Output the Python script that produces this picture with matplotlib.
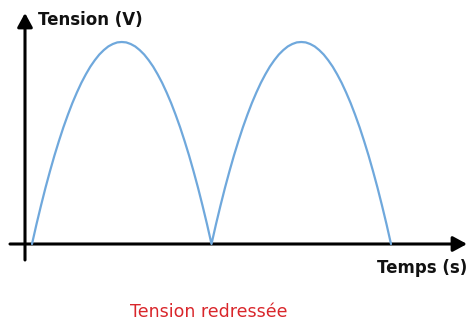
import numpy as np
import matplotlib
matplotlib.use("Agg")
import matplotlib.pyplot as plt

# Rectified voltage: two arches, sampled every 0.25 time units
time_arch1 = np.linspace(0, 10, 41)
time_arch2 = np.linspace(10, 20, 41)
volts_rise = [0, 0.98, 1.90, 2.78, 3.60, 4.38, 5.10, 5.78, 6.40, 6.98, 7.50,
              7.98, 8.40, 8.78, 9.10, 9.38, 9.60, 9.78, 9.90, 9.98, 10.0]
volts_arch = volts_rise + volts_rise[-2::-1]

y_label = "Tension (V)"
x_label = "Temps (s)"
caption = "Tension redressée"

W, H = 471, 320
fig = plt.figure(figsize=(W / 100, H / 100), dpi=100)
ax = fig.add_axes([0, 0, 1, 1])
ax.set_axis_off()

# pixel scale: t=0 at x=32 px, t=20 at x=391 px; V=0 at y=244 px, V=10 at y=42 px
sx = (391 - 32) / 20.0
sy = (244 - 42) / 10.0
ax.set_xlim((0 - 32) / sx, (W - 32) / sx)
ax.set_ylim((244 - H) / sy, (244 - 0) / sy)

curve_t = np.concatenate([time_arch1, time_arch2[1:]])
curve_v = volts_arch + volts_arch[1:]
ax.plot(curve_t, curve_v, color="#6fa8dc", lw=1.6, solid_capstyle="round",
        solid_joinstyle="round", zorder=3)

arrow = dict(arrowstyle="-|>,head_length=0.7,head_width=0.38", color="black",
             lw=2.2, mutation_scale=12, shrinkA=0, shrinkB=0)
# horizontal axis
ax.annotate("", xy=((467 - 32) / sx, 0), xytext=((10 - 32) / sx, 0),
            arrowprops=arrow, zorder=2)
# vertical axis
ax.annotate("", xy=((25 - 32) / sx, (244 - 13) / sy),
            xytext=((25 - 32) / sx, (244 - 260) / sy),
            arrowprops=arrow, zorder=2)

def px(x, y):
    return x / W, 1 - y / H

fig.text(*px(38, 20), y_label, fontsize=12, fontweight="bold",
         ha="left", va="center", color="#111111")
fig.text(*px(467, 268), x_label, fontsize=12, fontweight="bold",
         ha="right", va="center", color="#111111")
fig.text(*px(209, 312), caption, fontsize=12.5, ha="center", va="center",
         color="#d9262b")

fig.savefig("out.png", dpi=100)
